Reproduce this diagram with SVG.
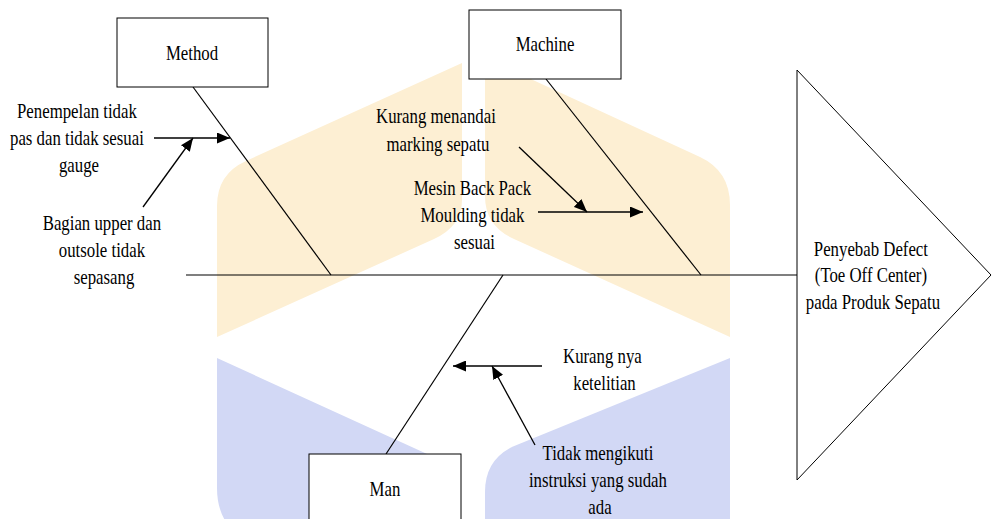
<svg xmlns="http://www.w3.org/2000/svg" width="992" height="519" viewBox="0 0 992 519">
  <style>
    .t { font-family: "Liberation Serif", "Times New Roman", serif; font-size: 21px; fill: #000; text-anchor: middle; }
    .box { fill: #fff; stroke: #000; stroke-width: 1; }
    .bone { fill: none; stroke: #000; stroke-width: 1.2; }
    .arr { fill: none; stroke: #000; stroke-width: 1.3; marker-end: url(#ah); }
    .wm-o { fill: #FDEFD3; }
    .wm-b { fill: #D2D8F5; }
  </style>
  <defs>
    <marker id="ah" viewBox="0 0 13 11" refX="13" refY="5.5" markerWidth="13" markerHeight="11" orient="auto" markerUnits="userSpaceOnUse">
      <path d="M0,0 L13,5.5 L0,11 z" fill="#000"/>
    </marker>
  </defs>

  <!-- background emblem -->
  <g id="emblem">
    <path class="wm-o" d="M217,337 L217,206 Q217,174 246,161 L462,63 L462,200 Q462,226 434,239 Z"/>
    <path class="wm-o" d="M730,337 L730,205 Q730,171 700,157 L485,58 L485,196 Q485,226 514,239 Z"/>
    <path class="wm-b" d="M217,358 L460,469 L460,640 L253,544 Q217,528 217,488 Z"/>
    <path class="wm-b" d="M730,358 L730,560 L485,560 L485,492 Q485,460 513,446.5 Z"/>
  </g>

  <!-- spine, bones and cause arrows -->
  <g id="connectors">
    <line class="bone" x1="186" y1="275" x2="797" y2="275"/>
    <line class="bone" x1="193" y1="87" x2="331" y2="275"/>
    <line class="bone" x1="546" y1="79" x2="701" y2="275"/>
    <line class="bone" x1="503" y1="275" x2="386" y2="454"/>
    <line class="arr" x1="154" y1="138" x2="230" y2="138"/>
    <line class="arr" x1="143" y1="207" x2="193" y2="138"/>
    <line class="arr" x1="538" y1="212" x2="643" y2="212"/>
    <line class="arr" x1="519" y1="147" x2="587" y2="212"/>
    <line class="arr" x1="542" y1="366" x2="453" y2="366"/>
    <line class="arr" x1="535" y1="445" x2="492" y2="366"/>
  </g>

  <g id="method">
    <rect class="box" x="117" y="18" width="151" height="69"/>
    <text class="t" transform="translate(192 59.5) scale(0.8 1)">Method</text>
  </g>

  <g id="machine">
    <rect class="box" x="469" y="10" width="152" height="69"/>
    <text class="t" transform="translate(545 51) scale(0.8 1)">Machine</text>
  </g>

  <g id="man">
    <rect class="box" x="309" y="454" width="152" height="69"/>
    <text class="t" transform="translate(385 495.5) scale(0.8 1)">Man</text>
  </g>

  <g id="effect">
    <polygon class="box" points="797,70 991,275 797,480"/>
    <text class="t" transform="translate(873 255.5) scale(0.8 1)">
      <tspan x="0" y="0">Penyebab Defect</tspan>
      <tspan x="0" y="26.7">(Toe Off Center)</tspan>
      <tspan x="0" y="53.4">pada Produk Sepatu</tspan>
    </text>
  </g>

  <g id="cause-penempelan">
    <text class="t" transform="translate(79 117.5) scale(0.8 1)">
      <tspan x="0" y="0">Penempelan tidak</tspan>
      <tspan x="0" y="27.3">pas dan tidak sesuai</tspan>
      <tspan x="0" y="54.6">gauge</tspan>
    </text>
  </g>

  <g id="cause-bagian">
    <text class="t" transform="translate(104 229.5) scale(0.8 1)">
      <tspan x="0" y="0">Bagian upper dan</tspan>
      <tspan x="0" y="27.2">outsole tidak</tspan>
      <tspan x="0" y="54.4">sepasang</tspan>
    </text>
  </g>

  <g id="cause-marking">
    <text class="t" transform="translate(438 123.3) scale(0.8 1)">
      <tspan x="0" y="0">Kurang menandai</tspan>
      <tspan x="0" y="27.3">marking sepatu</tspan>
    </text>
  </g>

  <g id="cause-mesin">
    <text class="t" transform="translate(474.5 195) scale(0.8 1)">
      <tspan x="0" y="0">Mesin Back Pack</tspan>
      <tspan x="0" y="27">Moulding tidak</tspan>
      <tspan x="0" y="54.3">sesuai</tspan>
    </text>
  </g>

  <g id="cause-ketelitian">
    <text class="t" transform="translate(604.5 363.3) scale(0.8 1)">
      <tspan x="0" y="0">Kurang nya</tspan>
      <tspan x="0" y="26.9">ketelitian</tspan>
    </text>
  </g>

  <g id="cause-instruksi">
    <text class="t" transform="translate(600 460) scale(0.8 1)">
      <tspan x="0" y="0">Tidak mengikuti</tspan>
      <tspan x="0" y="27.2">instruksi yang sudah</tspan>
      <tspan x="0" y="54">ada</tspan>
    </text>
  </g>
</svg>
